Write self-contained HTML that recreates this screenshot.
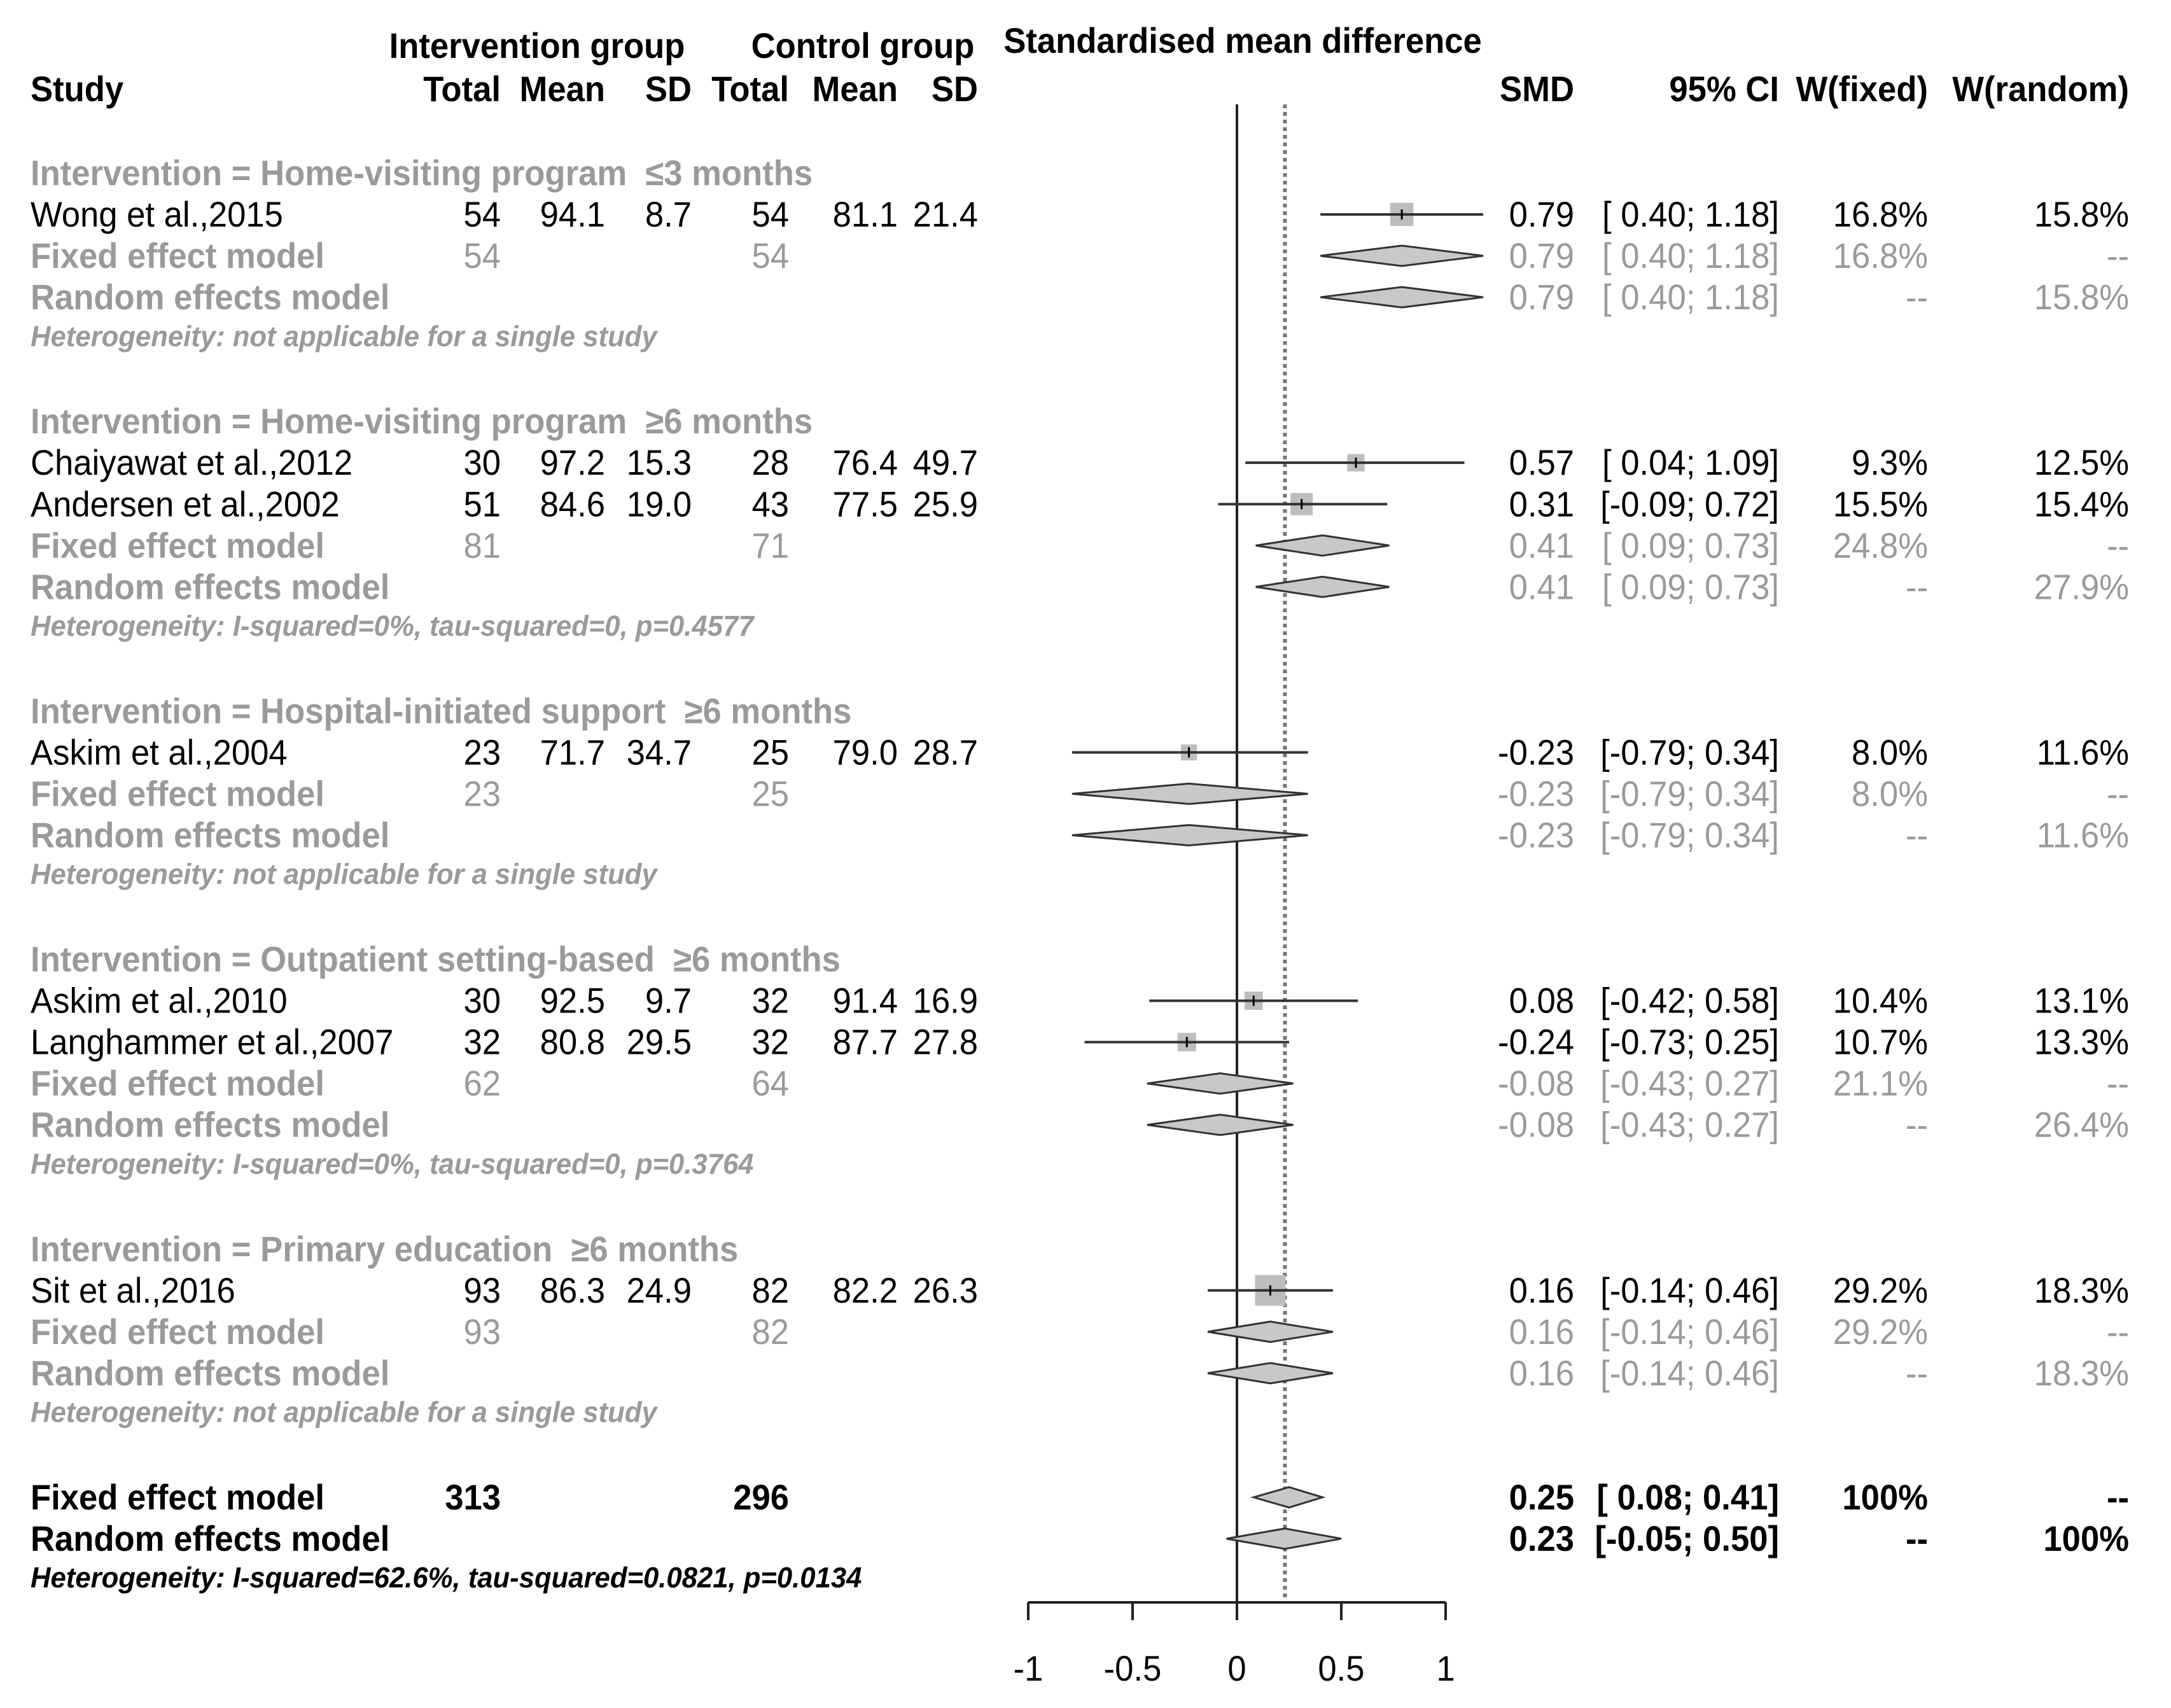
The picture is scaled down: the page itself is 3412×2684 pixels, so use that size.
<!DOCTYPE html>
<html><head><meta charset="utf-8"><style>
html,body{margin:0;padding:0;background:#fff;}
svg{display:block;}
text{font-family:"Liberation Sans",sans-serif;}
</style></head><body>
<svg id="plot" width="3412" height="2684" viewBox="0 0 3412 2684" xmlns="http://www.w3.org/2000/svg"></svg>
<script>
// ---- data ----
const groupLabels = ["Intervention = Home-visiting program  \u22643 months","Intervention = Home-visiting program  \u22656 months","Intervention = Hospital-initiated support  \u22656 months","Intervention = Outpatient setting-based  \u22656 months","Intervention = Primary education  \u22656 months"];
const studyGroup = [0,1,1,2,3,3,4];
const studyNames = ["Wong et al.,2015","Chaiyawat et al.,2012","Andersen et al.,2002","Askim et al.,2004","Askim et al.,2010","Langhammer et al.,2007","Sit et al.,2016"];
const intN = [54,30,51,23,30,32,93];
const intMean = ["94.1","97.2","84.6","71.7","92.5","80.8","86.3"];
const intSD = ["8.7","15.3","19.0","34.7","9.7","29.5","24.9"];
const ctlN = [54,28,43,25,32,32,82];
const ctlMean = ["81.1","76.4","77.5","79.0","91.4","87.7","82.2"];
const ctlSD = ["21.4","49.7","25.9","28.7","16.9","27.8","26.3"];
const smd = [0.79,0.57,0.31,-0.23,0.08,-0.24,0.16];
const ciLo = [0.40,0.04,-0.09,-0.79,-0.42,-0.73,-0.14];
const ciHi = [1.18,1.09,0.72,0.34,0.58,0.25,0.46];
const wFixed = [16.8,9.3,15.5,8.0,10.4,10.7,29.2];
const wRandom = [15.8,12.5,15.4,11.6,13.1,13.3,18.3];
const grpIntN = [54,81,23,62,93];
const grpCtlN = [54,71,25,64,82];
const grpFixEst = [0.79,0.41,-0.23,-0.08,0.16];
const grpFixLo = [0.40,0.09,-0.79,-0.43,-0.14];
const grpFixHi = [1.18,0.73,0.34,0.27,0.46];
const grpRanEst = [0.79,0.41,-0.23,-0.08,0.16];
const grpRanLo = [0.40,0.09,-0.79,-0.43,-0.14];
const grpRanHi = [1.18,0.73,0.34,0.27,0.46];
const grpWFixed = [16.8,24.8,8.0,21.1,29.2];
const grpWRandom = [15.8,27.9,11.6,26.4,18.3];
const grpHet = ["Heterogeneity: not applicable for a single study","Heterogeneity: I-squared=0%, tau-squared=0, p=0.4577","Heterogeneity: not applicable for a single study","Heterogeneity: I-squared=0%, tau-squared=0, p=0.3764","Heterogeneity: not applicable for a single study"];
const totIntN = 313, totCtlN = 296;
const totFix = [0.25,0.08,0.41];
const totRan = [0.23,-0.05,0.50];
const totHet = "Heterogeneity: I-squared=62.6%, tau-squared=0.0821, p=0.0134";
const xTicks = [-1,-0.5,0,0.5,1];
const xTickLabels = ["-1","-0.5","0","0.5","1"];

// ---- layout ----
const svg = document.getElementById('plot');
const NS = "http://www.w3.org/2000/svg";
const X0 = 1944, UNIT = 328;
const xs = v => X0 + v*UNIT;
const rowY = k => 337 + 65.03*k;
const GREY = "#9a9a9a";
const col = {study:48, iN:787, iM:951, iS:1087, cN:1240, cM:1411, cS:1537, smd:2474, ci:2796, wf:3030, wr:3346};

function txt(x,y,s,opt){
  opt = opt||{};
  const t = document.createElementNS(NS,'text');
  t.setAttribute('transform',`translate(${x},${y}) scale(${opt.sx||0.94},1)`);
  t.setAttribute('x',0); t.setAttribute('y',0);
  t.setAttribute('dominant-baseline','central');
  t.setAttribute('text-anchor',opt.a||'end');
  t.setAttribute('font-size',opt.fs||56);
  t.setAttribute('fill',opt.c||'#000');
  if(opt.b) t.setAttribute('font-weight','bold');
  if(opt.i) t.setAttribute('font-style','italic');
  t.setAttribute('xml:space','preserve');
  t.style.whiteSpace='pre';
  t.textContent = s;
  
  
  svg.appendChild(t);
  return t;
}
function el(tag,attrs,name){
  const e = document.createElementNS(NS,tag);
  for(const k in attrs) e.setAttribute(k,attrs[k]);
  
  
  svg.appendChild(e);
  return e;
}
const f2 = v => v.toFixed(2);
const ci = (lo,hi) => "[" + (lo>=0?" ":"") + f2(lo) + "; " + f2(hi) + "]";
const pct = v => v.toFixed(1)+"%";

// headers
txt(844,72,"Intervention group",{a:'middle',b:true,name:'intervention-group-header'});
txt(1356,72,"Control group",{a:'middle',b:true,name:'control-group-header'});
txt(1953,64,"Standardised mean difference",{a:'middle',b:true,name:'smd-plot-header'});
const hy = 140;
txt(col.study,hy,"Study",{a:'start',b:true,name:'study-header'});
txt(col.iN,hy,"Total",{b:true,name:'int-total-header'});
txt(col.iM,hy,"Mean",{b:true,name:'int-mean-header'});
txt(col.iS,hy,"SD",{b:true,name:'int-sd-header'});
txt(col.cN,hy,"Total",{b:true,name:'ctl-total-header'});
txt(col.cM,hy,"Mean",{b:true,name:'ctl-mean-header'});
txt(col.cS,hy,"SD",{b:true,name:'ctl-sd-header'});
txt(col.smd,hy,"SMD",{b:true,name:'smd-header'});
txt(col.ci,hy,"95% CI",{b:true,name:'ci-header'});
txt(col.wf,hy,"W(fixed)",{b:true,name:'w-fixed-header'});
txt(col.wr,hy,"W(random)",{b:true,name:'w-random-header'});

// reference lines
const axisY = 2518;
el('line',{x1:xs(0),y1:164,x2:xs(0),y2:axisY,stroke:'#222','stroke-width':4},'null-effect-line');
el('line',{x1:xs(totRan[0]),y1:164,x2:xs(totRan[0]),y2:axisY,stroke:'#777','stroke-width':6,'stroke-dasharray':'6 6'},'pooled-effect-dotted-line');

function diamond(y,est,lo,hi,name){
  const h=16;
  el('polygon',{points:`${xs(lo)},${y} ${xs(est)},${y-h} ${xs(hi)},${y} ${xs(est)},${y+h}`,fill:'#c8c8c8',stroke:'#333','stroke-width':3},name);
}

let k = -1;
for(let g=0; g<groupLabels.length; g++){
  k += (g===0?0:2);
  txt(col.study,rowY(k),groupLabels[g],{a:'start',c:GREY,b:true,name:'subgroup-label'});
  k++;
  for(let i=0;i<studyNames.length;i++){
    if(studyGroup[i]!==g) continue;
    const y=rowY(k);
    txt(col.study,y,studyNames[i],{a:'start',name:'study-name'});
    txt(col.iN,y,String(intN[i]),{name:'int-total'});
    txt(col.iM,y,intMean[i],{name:'int-mean'});
    txt(col.iS,y,intSD[i],{name:'int-sd'});
    txt(col.cN,y,String(ctlN[i]),{name:'ctl-total'});
    txt(col.cM,y,ctlMean[i],{name:'ctl-mean'});
    txt(col.cS,y,ctlSD[i],{name:'ctl-sd'});
    txt(col.smd,y,f2(smd[i]),{name:'smd-value'});
    txt(col.ci,y,ci(ciLo[i],ciHi[i]),{name:'ci-value'});
    txt(col.wf,y,pct(wFixed[i]),{name:'w-fixed-value'});
    txt(col.wr,y,pct(wRandom[i]),{name:'w-random-value'});
    const s = 8.9*Math.sqrt(wFixed[i]);
    el('rect',{x:xs(smd[i])-s/2,y:y-s/2,width:s,height:s,fill:'#bdbdbd'},'study-square');
    el('line',{x1:xs(ciLo[i]),y1:y,x2:xs(ciHi[i]),y2:y,stroke:'#333','stroke-width':4},'study-ci-line');
    el('line',{x1:xs(smd[i]),y1:y-8,x2:xs(smd[i]),y2:y+8,stroke:'#000','stroke-width':3},'study-point');
    k++;
  }
  let y=rowY(k);
  txt(col.study,y,"Fixed effect model",{a:'start',c:GREY,b:true,name:'subgroup-fixed-label'});
  txt(col.iN,y,String(grpIntN[g]),{c:GREY,name:'subgroup-int-total'});
  txt(col.cN,y,String(grpCtlN[g]),{c:GREY,name:'subgroup-ctl-total'});
  txt(col.smd,y,f2(grpFixEst[g]),{c:GREY,name:'subgroup-fixed-smd'});
  txt(col.ci,y,ci(grpFixLo[g],grpFixHi[g]),{c:GREY,name:'subgroup-fixed-ci'});
  txt(col.wf,y,pct(grpWFixed[g]),{c:GREY,name:'subgroup-w-fixed'});
  txt(col.wr,y,"--",{c:GREY,name:'subgroup-w-random-na'});
  diamond(y,grpFixEst[g],grpFixLo[g],grpFixHi[g],'subgroup-fixed-diamond');
  k++; y=rowY(k);
  txt(col.study,y,"Random effects model",{a:'start',c:GREY,b:true,name:'subgroup-random-label'});
  txt(col.smd,y,f2(grpRanEst[g]),{c:GREY,name:'subgroup-random-smd'});
  txt(col.ci,y,ci(grpRanLo[g],grpRanHi[g]),{c:GREY,name:'subgroup-random-ci'});
  txt(col.wf,y,"--",{c:GREY,name:'subgroup-w-fixed-na'});
  txt(col.wr,y,pct(grpWRandom[g]),{c:GREY,name:'subgroup-w-random'});
  diamond(y,grpRanEst[g],grpRanLo[g],grpRanHi[g],'subgroup-random-diamond');
  k++;
  txt(col.study,rowY(k)-3,grpHet[g],{a:'start',c:GREY,b:true,i:true,fs:45,sx:0.97,name:'subgroup-heterogeneity'});
}
k += 2;
let y=rowY(k);
txt(col.study,y,"Fixed effect model",{a:'start',b:true,name:'overall-fixed-label'});
txt(col.iN,y,String(totIntN),{b:true,name:'overall-int-total'});
txt(col.cN,y,String(totCtlN),{b:true,name:'overall-ctl-total'});
txt(col.smd,y,f2(totFix[0]),{b:true,name:'overall-fixed-smd'});
txt(col.ci,y,ci(totFix[1],totFix[2]),{b:true,name:'overall-fixed-ci'});
txt(col.wf,y,"100%",{b:true,name:'overall-w-fixed'});
txt(col.wr,y,"--",{b:true,name:'overall-w-random-na'});
diamond(y,totFix[0],totFix[1],totFix[2],'overall-fixed-diamond');
k++; y=rowY(k);
txt(col.study,y,"Random effects model",{a:'start',b:true,name:'overall-random-label'});
txt(col.smd,y,f2(totRan[0]),{b:true,name:'overall-random-smd'});
txt(col.ci,y,ci(totRan[1],totRan[2]),{b:true,name:'overall-random-ci'});
txt(col.wf,y,"--",{b:true,name:'overall-w-fixed-na'});
txt(col.wr,y,"100%",{b:true,name:'overall-w-random'});
diamond(y,totRan[0],totRan[1],totRan[2],'overall-random-diamond');
k++;
txt(col.study,rowY(k)-3,totHet,{a:'start',b:true,i:true,fs:45,sx:0.97,name:'overall-heterogeneity'});

// axis
el('line',{x1:xs(xTicks[0]),y1:axisY,x2:xs(xTicks[xTicks.length-1]),y2:axisY,stroke:'#222','stroke-width':4},'x-axis-line');
for(let i=0;i<xTicks.length;i++){
  el('line',{x1:xs(xTicks[i]),y1:axisY,x2:xs(xTicks[i]),y2:axisY+28,stroke:'#222','stroke-width':4},'x-axis-tick');
  txt(xs(xTicks[i]),2622,xTickLabels[i],{a:'middle',name:'x-tick-label'});
}
</script>
</body></html>
